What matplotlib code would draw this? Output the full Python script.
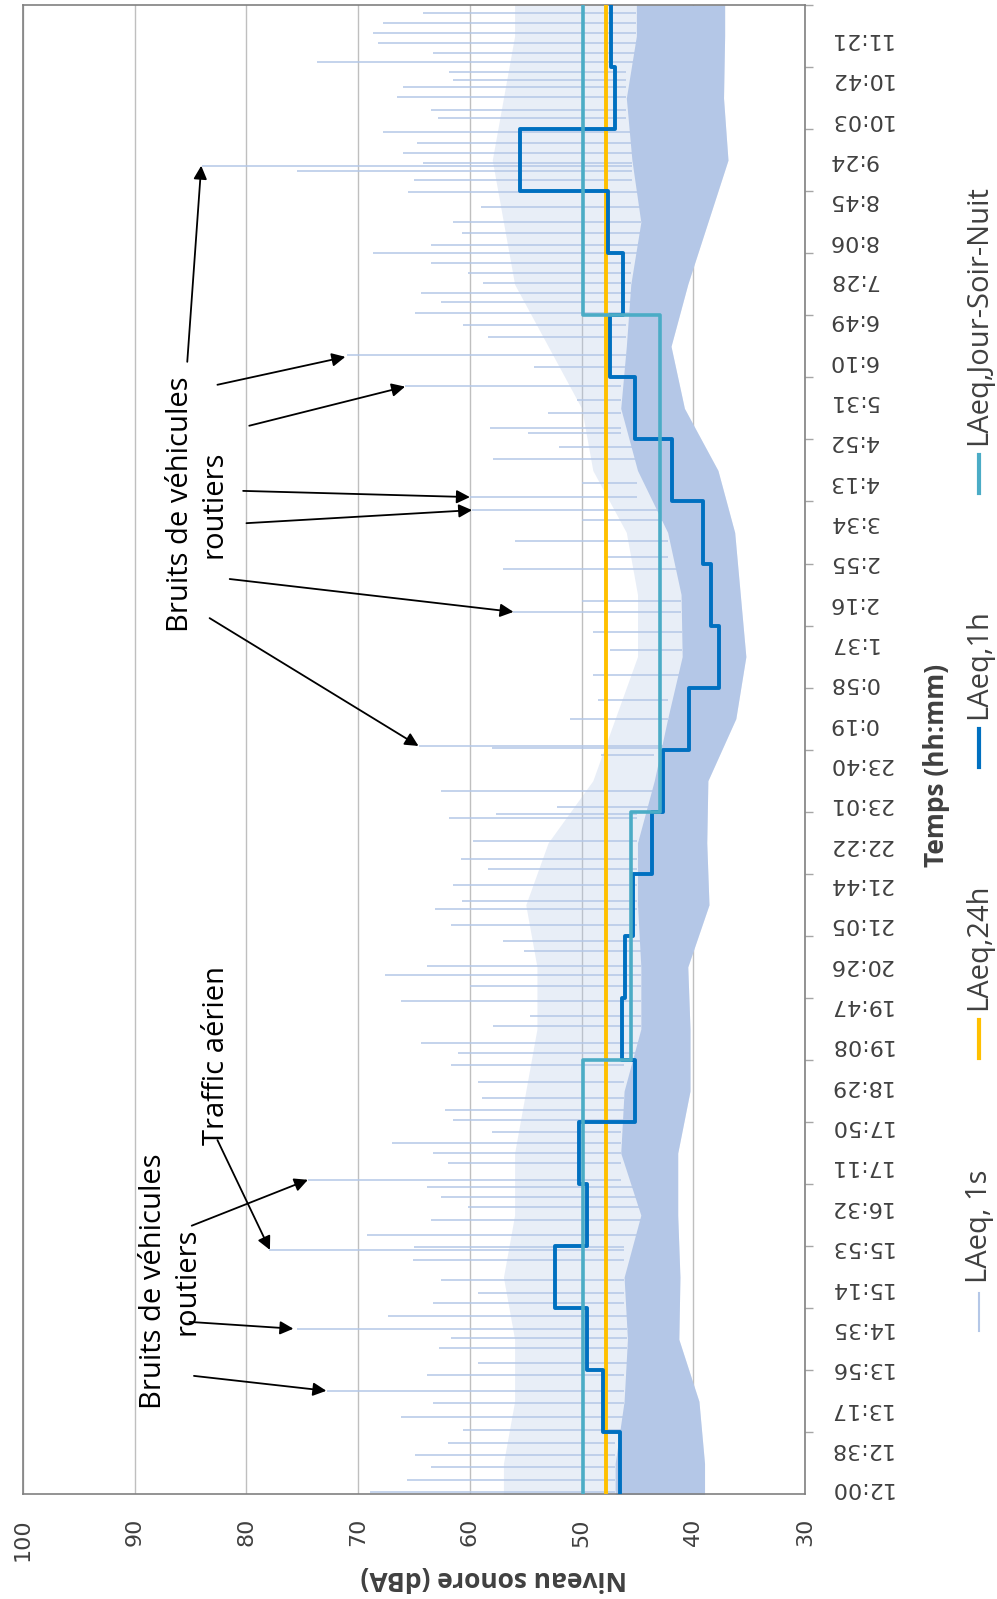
import matplotlib.pyplot as plt
from matplotlib.lines import Line2D
from matplotlib.ticker import MultipleLocator
from matplotlib.transforms import ScaledTranslation
import numpy as np

# time axis labels as printed (one every ~39 min)
time_labels = ['12:00', '12:38', '13:17', '13:56', '14:35', '15:14', '15:53', '16:32',
               '17:11', '17:50', '18:29', '19:08', '19:47', '20:26', '21:05', '21:44',
               '22:22', '23:01', '23:40', '0:19', '0:58', '1:37', '2:16', '2:55', '3:34',
               '4:13', '4:52', '5:31', '6:10', '6:49', '7:28', '8:06', '8:45', '9:24',
               '10:03', '10:42', '11:21']

# LAeq,1h - one value per hour, starting 12:00
laeq_1h = [46.6, 48.1, 49.5, 52.4, 49.5, 50.2, 45.2, 46.4, 46.1, 45.4, 43.7, 42.7,
           40.4, 37.7, 38.4, 39.1, 41.9, 45.2, 47.5, 46.3, 47.6, 55.5, 47.0, 47.4]

# LAeq,24h
laeq_24h = 47.8

# LAeq Jour-Soir-Nuit periods (hours after 12:00)
jsn_start = [0, 7, 11, 19]
jsn_end = [7, 11, 19, 24]
jsn_val = [49.9, 45.6, 43.0, 49.9]

# LAeq,1s envelope read per hour: lowest level, edge of dense band, edge of looser band
lvl_min = [39.0, 39.5, 41.3, 41.2, 41.4, 41.4, 40.3, 40.3, 40.5, 38.6, 38.8, 38.7,
           36.2, 35.3, 35.8, 36.3, 37.8, 40.8, 42.0, 40.5, 38.7, 36.9, 37.3, 37.2]
lvl_dense = [47.0, 46.2, 45.9, 46.2, 44.7, 46.5, 46.2, 44.7, 44.7, 45.0, 45.0, 43.5,
             42.3, 41.0, 41.1, 42.3, 45.0, 46.5, 46.0, 45.6, 44.7, 45.5, 46.0, 45.1]
lvl_loose = [57, 56, 56, 57, 56, 56, 55, 54, 54, 55, 53, 49,
             47, 45, 45, 46, 49, 50, 53, 56, 57, 58, 57, 56]

# isolated 1 s peaks (hours after 12:00, dBA)
peak_t = [23.87, 23.71, 23.55, 23.39, 23.23, 23.08, 22.92, 22.79, 22.68, 22.52, 22.31, 22.18,
          21.95, 21.78, 21.62, 21.45, 21.41, 21.32, 21.18, 20.99, 20.75, 20.51, 20.33, 20.14,
          20.01, 19.84, 19.68, 19.52, 19.36, 19.22, 19.04, 18.84, 18.65, 18.36, 18.17, 17.86,
          17.64, 17.42, 17.19, 17.11, 16.88, 16.68, 16.30, 16.07, 15.86, 15.70, 15.36, 15.10,
          14.91, 14.40, 14.22, 13.90, 13.60, 13.20, 12.80, 12.50, 12.06, 12.02, 11.92, 11.34,
          11.08, 10.97, 10.90, 10.53, 10.24, 10.08, 9.82, 9.56, 9.44, 9.18, 8.92, 8.75,
          8.52, 8.37, 8.19, 7.95, 7.71, 7.55, 7.27, 7.11, 6.92, 6.65, 6.39, 6.20,
          6.04, 5.84, 5.66, 5.50, 5.34, 5.07, 4.95, 4.79, 4.63, 4.42, 4.18, 3.99,
          3.94, 3.78, 3.46, 3.25, 3.09, 2.88, 2.67, 2.52, 2.36, 2.12, 1.93, 1.67,
          1.47, 1.25, 1.04, 0.83, 0.64, 0.44, 0.23, 0.04]
peak_lvl = [64.2, 67.8, 68.7, 68.2, 63.3, 73.7, 61.9, 61.5, 66.0, 66.5, 63.5, 62.9,
            67.8, 64.7, 66.0, 64.2, 84.0, 75.5, 65.0, 65.5, 59.0, 61.5, 60.7, 63.5,
            68.7, 63.5, 60.2, 58.8, 64.4, 62.6, 64.9, 60.6, 58.4, 71.0, 54.3, 65.8,
            50.4, 53.0, 58.2, 54.8, 52.0, 57.9, 50.0, 60.0, 59.8, 50.0, 56.0, 48.0,
            57.0, 50.0, 56.1, 49.0, 47.5, 49.0, 48.5, 51.0, 64.6, 58.0, 48.3, 62.6,
            52.2, 57.7, 61.9, 59.7, 60.8, 58.4, 61.5, 60.7, 63.1, 61.7, 57.0, 55.2,
            63.8, 67.6, 60.0, 66.2, 54.6, 57.9, 64.4, 61.1, 61.7, 59.3, 58.9, 62.2,
            61.5, 58.0, 67.0, 63.3, 62.0, 74.5, 63.8, 62.6, 60.2, 63.5, 69.2, 65.0,
            78.0, 65.1, 62.6, 59.3, 63.3, 67.3, 75.5, 61.7, 62.8, 59.3, 63.8, 72.8,
            63.3, 66.2, 60.6, 62.0, 64.9, 63.5, 65.6, 68.9]

# annotations: text (level, hour) and arrows (from level, from hour, to level, to hour)
notes = [('Bruits de véhicules\nroutiers', 84.4, 15.96),
         ('Bruits de véhicules\nroutiers', 86.8, 3.44),
         ('Traffic aérien', 82.7, 7.07)]
arrows = [(85.3, 18.25, 84.05, 21.41), (82.6, 17.88, 71.15, 18.33), (79.75, 17.22, 65.8, 17.85),
          (80.3, 16.17, 60.0, 16.07), (80.0, 15.65, 59.8, 15.86), (81.5, 14.75, 56.1, 14.22),
          (83.3, 14.12, 64.6, 12.06), (82.6, 5.71, 77.9, 3.94), (84.9, 4.33, 74.5, 5.07),
          (85.1, 2.78, 75.8, 2.67), (84.7, 1.91, 72.85, 1.67)]

c1s = '#b4c7e7'
c1h = '#0070c0'
c24 = '#ffc000'
cjsn = '#4bacc6'
txt = '#404040'

fig = plt.figure(figsize=(9.97, 15.99), dpi=100)
ax = fig.add_axes([0.0231, 0.0654, 0.7844, 0.9315])

# chart is drawn turned a quarter turn: level runs along x (100 -> 30), time along y
hrs = np.arange(24) + 0.5
tc = np.r_[0, hrs, 24]
lo = np.r_[lvl_min[0], lvl_min, lvl_min[-1]]
de = np.r_[lvl_dense[0], lvl_dense, lvl_dense[-1]]
lz = np.r_[lvl_loose[0], lvl_loose, lvl_loose[-1]]
ax.fill_betweenx(tc, lo, lz, color=c1s, alpha=0.3, lw=0, zorder=2)
ax.fill_betweenx(tc, lo, de, color=c1s, lw=0, zorder=2)
base = np.array(lvl_dense)[np.minimum(np.array(peak_t).astype(int), 23)]
ax.hlines(peak_t, base, peak_lvl, color=c1s, lw=1.1, zorder=2)

ax.plot([laeq_24h, laeq_24h], [0, 24], color=c24, lw=2.8, zorder=3)

edges = np.arange(25)
ax.plot(np.repeat(laeq_1h, 2), np.column_stack([edges[:-1], edges[1:]]).ravel(),
        color=c1h, lw=2.8, zorder=4)
ax.plot(np.repeat(jsn_val, 2), np.column_stack([jsn_start, jsn_end]).ravel(),
        color=cjsn, lw=2.6, zorder=5)

ax.set_xlim(100, 30)
ax.set_ylim(0, 24)
ax.set_xticks(np.arange(30, 101, 10))
ax.xaxis.grid(True, color='#bfbfbf', lw=1)
ax.set_axisbelow(True)
ax.tick_params(axis='x', length=0, pad=17, labelsize=16, labelrotation=90,
               labelcolor=txt)
for lab in ax.get_xticklabels():
    lab.set_family('DejaVu Sans')

label_pos = []
for s in time_labels:
    h, m = s.split(':')
    label_pos.append((int(h) - 12) % 24 + int(m) / 60)
ax.yaxis.tick_right()
ax.set_yticks(label_pos)
ax.set_yticklabels(time_labels, rotation=180, va='center')
ax.yaxis.set_minor_locator(MultipleLocator(1))
ax.tick_params(axis='y', which='major', length=0, pad=16.5, labelsize=16,
               labelcolor=txt)
ax.tick_params(axis='y', which='minor', length=6, width=1, color='#a6a6a6',
               direction='out')
off = ScaledTranslation(0, 4.5 / 72, fig.dpi_scale_trans)
for tk in ax.yaxis.get_major_ticks():
    tk.label2.set_transform(tk.label2.get_transform() + off)

for sp in ax.spines.values():
    sp.set_color('#808080')
    sp.set_linewidth(1.2)

for s, lv, t in notes:
    ax.text(lv, t, s, rotation=90, ha='center', va='center', multialignment='center',
            fontsize=21, family='Open Sans', color='black', linespacing=1.2, zorder=6)
for x0, y0, x1, y1 in arrows:
    ax.annotate('', xy=(x1, y1), xytext=(x0, y0),
                arrowprops=dict(arrowstyle='-|>', color='black', lw=1.3,
                                mutation_scale=20, shrinkA=0, shrinkB=0), zorder=6)

fig.text(494 / 997, 1 - 1578 / 1599, 'Niveau sonore (dBA)', rotation=180, ha='center',
         va='center', fontsize=19, fontweight='bold', family='Open Sans', color=txt)
fig.text(936 / 997, 1 - 765 / 1599, 'Temps (hh:mm)', rotation=90, ha='center',
         va='center', fontsize=19, fontweight='bold', family='Open Sans', color=txt)

# legend, turned like the chart
leg = [('LAeq, 1s', c1s, 1.5, 1293), ('LAeq,24h', c24, 3.0, 1020),
       ('LAeq,1h', c1h, 3.0, 729), ('LAeq,Jour-Soir-Nuit', cjsn, 3.0, 455)]
lx = 979 / 997
for name, col, w, ytop in leg:
    fig.add_artist(Line2D([lx, lx], [1 - ytop / 1599, 1 - (ytop + 38) / 1599],
                          transform=fig.transFigure, color=col, lw=w))
    fig.text(lx, 1 - (ytop - 10) / 1599, name, rotation=90, ha='center', va='bottom',
             fontsize=21, family='Open Sans', color=txt)

fig.savefig('out.png', dpi=100)
